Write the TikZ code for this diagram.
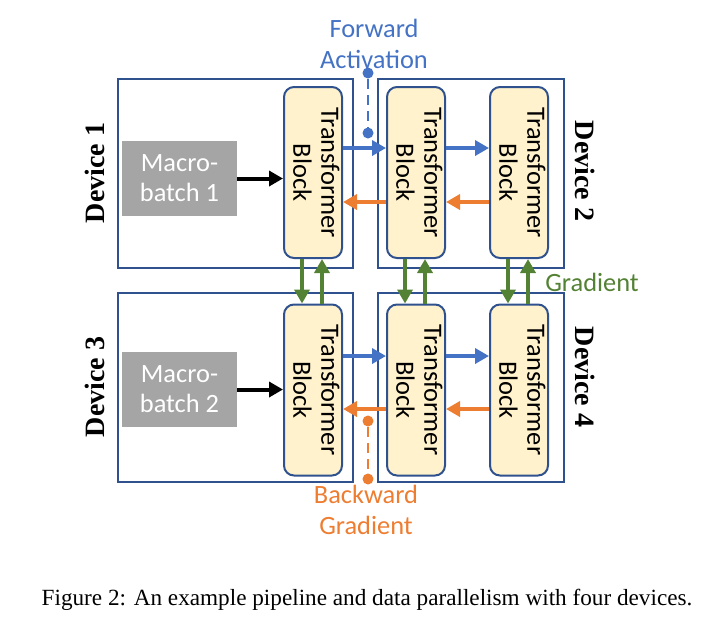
\documentclass[tikz,border=0pt]{standalone}
\usepackage{fontspec}
\setmainfont{Carlito}
\newfontfamily\capfont{Liberation Serif}
\usepackage{tikz}
\usetikzlibrary{arrows.meta}
\definecolor{fwdcol}{HTML}{4472C4}
\definecolor{bwdcol}{HTML}{ED7D31}
\definecolor{gradcol}{HTML}{548235}
\definecolor{boxcol}{HTML}{2F528F}
\definecolor{blkfill}{HTML}{FFF2CC}
\definecolor{batchfill}{HTML}{A5A5A5}
\newcommand{\tblock}{\rotatebox{-90}{\begin{tabular}{@{}c@{}}Transformer\\Block\end{tabular}}}
\tikzset{
  dev/.style={draw=boxcol, line width=1pt, inner sep=0pt, minimum height=94.5pt},
  blk/.style={draw=boxcol, line width=1pt, fill=blkfill, rounded corners=5pt, inner sep=0pt,
    minimum width=29pt, minimum height=85.5pt, font=\fontsize{13.2}{14}\selectfont},
  batch/.style={fill=batchfill, text=white, align=center, inner sep=0pt,
    minimum width=57.5pt, minimum height=37.5pt, font=\fontsize{13.2}{15}\selectfont},
  devlabel/.style={font=\capfont\bfseries\fontsize{14}{16}\selectfont, inner sep=0pt},
  tag/.style={align=center, inner sep=0pt, font=\fontsize{13.2}{15.5}\selectfont},
  dot/.style={circle, inner sep=0pt, minimum size=5.5pt},
  fwd/.style={->, draw=fwdcol, fill=fwdcol, line width=2pt},
  bwd/.style={->, draw=bwdcol, fill=bwdcol, line width=2pt},
  grad/.style={->, draw=gradcol, fill=gradcol, line width=2.4pt},
  feed/.style={->, draw=black, fill=black, line width=2pt},
}
\begin{document}
\begin{tikzpicture}[x=0.5pt,y=-0.5pt,>={Triangle[length=7pt,width=7.5pt]},line join=miter]
\useasboundingbox (0,0) rectangle (722,628);
%% devices
  \node (D1) at (235.5,173.5) [dev, minimum width=117.5pt] {};
  \node (D2) at (471,173.5) [dev, minimum width=93pt] {};
  \node (D3) at (235.5,387.5) [dev, minimum width=117.5pt] {};
  \node (D4) at (471,387.5) [dev, minimum width=93pt] {};
  \node (L1) at (95,173) [devlabel, rotate=90] {Device 1};
  \node (L2) at (585,171) [devlabel, rotate=-90] {Device 2};
  \node (L3) at (95,387) [devlabel, rotate=90] {Device 3};
  \node (L4) at (585,377) [devlabel, rotate=-90] {Device 4};
%% blocks
  \node (M1) at (179.5,178.5) [batch] {Macro-\\batch 1};
  \node (M2) at (179.5,389.5) [batch] {Macro-\\batch 2};
  \node (B11) at (313,172.5) [blk] {\tblock};
  \node (B12) at (416,172.5) [blk] {\tblock};
  \node (B13) at (519,172.5) [blk] {\tblock};
  \node (B21) at (313,390) [blk] {\tblock};
  \node (B22) at (416,390) [blk] {\tblock};
  \node (B23) at (519,390) [blk] {\tblock};
%% labels and markers
  \node (FA) at (374,44) [tag, text=fwdcol] {Forward\\Activation};
  \node (BG) at (366,510) [tag, text=bwdcol] {Backward\\Gradient};
  \node (GR) at (592,282) [tag, text=gradcol] {Gradient};
  \node (F1) at (368,73) [dot, fill=fwdcol] {};
  \node (F2) at (368,133) [dot, fill=fwdcol] {};
  \node (G1) at (368,421) [dot, fill=bwdcol] {};
  \node (G2) at (368,479) [dot, fill=bwdcol] {};
  \draw [fwdcol, line width=1.2pt, dash pattern=on 5pt off 3pt] (F1) -- (F2);
  \draw [bwdcol, line width=1.2pt, dash pattern=on 5pt off 3pt] (G1) -- (G2);
%% arrows
  \draw [feed] (M1.east) -- (B11.west |- M1.east);
  \draw [feed] (M2.east) -- (B21.west |- M2.east);
  \draw [fwd] ([yshift=12.25pt]B11.east) -- ([yshift=12.25pt]B12.west);
  \draw [fwd] ([yshift=12.25pt]B12.east) -- ([yshift=12.25pt]B13.west);
  \draw [bwd] ([yshift=-14.75pt]B12.west) -- ([yshift=-14.75pt]B11.east);
  \draw [bwd] ([yshift=-14.75pt]B13.west) -- ([yshift=-14.75pt]B12.east);
  \draw [fwd] ([yshift=17pt]B21.east) -- ([yshift=17pt]B22.west);
  \draw [fwd] ([yshift=17pt]B22.east) -- ([yshift=17pt]B23.west);
  \draw [bwd] ([yshift=-9.5pt]B22.west) -- ([yshift=-9.5pt]B21.east);
  \draw [bwd] ([yshift=-9.5pt]B23.west) -- ([yshift=-9.5pt]B22.east);
  \draw [grad] ([xshift=-5.5pt]B11.south) -- ([xshift=-5.5pt]B21.north);
  \draw [grad] ([xshift=4.5pt]B21.north) -- ([xshift=4.5pt]B11.south);
  \draw [grad] ([xshift=-5.5pt]B12.south) -- ([xshift=-5.5pt]B22.north);
  \draw [grad] ([xshift=4.5pt]B22.north) -- ([xshift=4.5pt]B12.south);
  \draw [grad] ([xshift=-5.5pt]B13.south) -- ([xshift=-5.5pt]B23.north);
  \draw [grad] ([xshift=4.5pt]B23.north) -- ([xshift=4.5pt]B13.south);
%% caption
  \node (CAP) at (367,600) [inner sep=0pt, font=\capfont\fontsize{11.6}{13}\selectfont]
    {Figure 2: An example pipeline and data parallelism with four devices.};
%
\end{tikzpicture}
\end{document}
